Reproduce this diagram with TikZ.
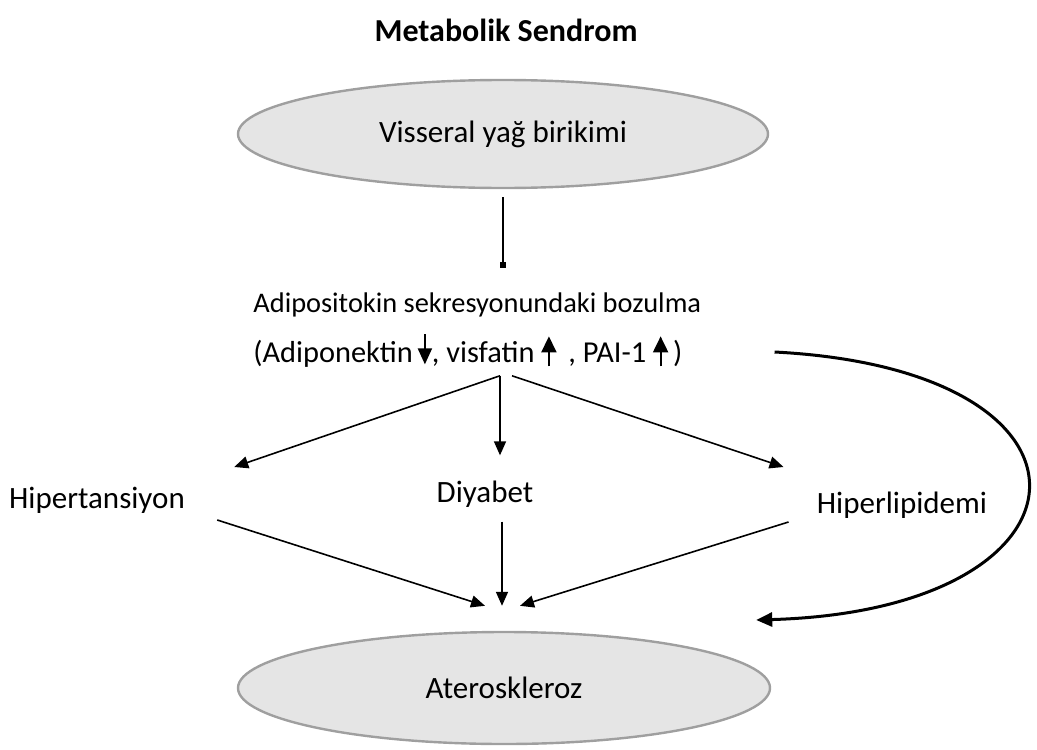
\documentclass[tikz,border=0pt]{standalone}
\usepackage{fontspec}
\setmainfont{Carlito}
\usetikzlibrary{shapes.geometric, positioning, arrows.meta, calc}

\newcommand{\arrUp}{\tikz[baseline=0pt]\draw[line width=1pt, -{Triangle[length=8pt, width=7.5pt]}] (0pt,-2pt) -- (0pt,13pt);}
\newcommand{\arrDown}{\tikz[baseline=0pt]\draw[line width=1pt, -{Triangle[length=8pt, width=7pt]}] (0pt,14pt) -- (0pt,-1pt);}

\begin{document}
\begin{tikzpicture}[
    x=0.5pt, y=-0.5pt,
    font=\fontsize{15.5}{25}\selectfont,
    ovalNode/.style={ellipse, draw=gray!75, line width=1.2pt, fill=gray!20, minimum width=265pt, minimum height=54pt, inner sep=0pt},
    labelNode/.style={inner sep=0pt, align=center},
    flowArrow/.style={line width=0.8pt, -{Triangle[length=7pt, width=6pt]}},
    loopArrow/.style={line width=1.5pt, -{Triangle[length=8pt, width=7pt]}}
]
    \useasboundingbox (0,0) rectangle (1037,749);

    % Title
    \node[labelNode, font=\fontsize{16}{18}\selectfont\bfseries] (title) at (506,30) {Metabolik Sendrom};

    % Ovals
    \node[ovalNode] (vis) at (503,134) {Visseral yağ birikimi};
    \node[ovalNode, minimum width=266pt, minimum height=56pt] (ath) at (504,688) {Ateroskleroz};

    % Adipositokin text
    \node[labelNode, align=left, anchor=west, font=\fontsize{14.2}{25}\selectfont] (adip) at (253,330) {Adipositokin sekresyonundaki bozulma\\{\fontsize{15.2}{25}\selectfont(Adiponektin\,\arrDown, visfatin\ \arrUp\ \,, PAI-1\ \arrUp\,)}};

    % Disorders
    \node[labelNode] (hyp) at (97,500) {Hipertansiyon};
    \node[labelNode] (dia) at (485,494) {Diyabet};
    \node[labelNode] (hpl) at (902,505) {Hiperlipidemi};

    % Connecting lines
    \draw[line width=0.8pt, -{Square[length=3pt, width=3pt]}, shorten <=4pt, shorten >=12pt] (vis.south) -- (vis.south |- adip.north);
    \draw[flowArrow] ($(adip.south -| dia.north)+(15,8)$) -- ([shift={(49,-33)}]hyp.east);
    \draw[flowArrow] ($(adip.south -| dia.north)+(15,8)$) -- ($(dia.north)+(15,-25)$);
    \draw[flowArrow] ($(adip.south -| dia.north)+(27,8)$) -- ([shift={(-33,-38)}]hpl.west);
    \draw[flowArrow] ([shift={(32,20)}]hyp.east) -- ($(ath.north)+(-19,-25)$);
    \draw[flowArrow] ($(dia.south)+(17,14)$) -- ($(ath.north)+(-2,-25)$);
    \draw[flowArrow] ([shift={(-28,17)}]hpl.west) -- ($(ath.north)+(16,-25)$);
    \draw[loopArrow] ($(adip.east)+(73,22)$) .. controls (1125,370) and (1105,610) .. ($(ath.east)+(-15,-68)$);

\end{tikzpicture}
\end{document}
